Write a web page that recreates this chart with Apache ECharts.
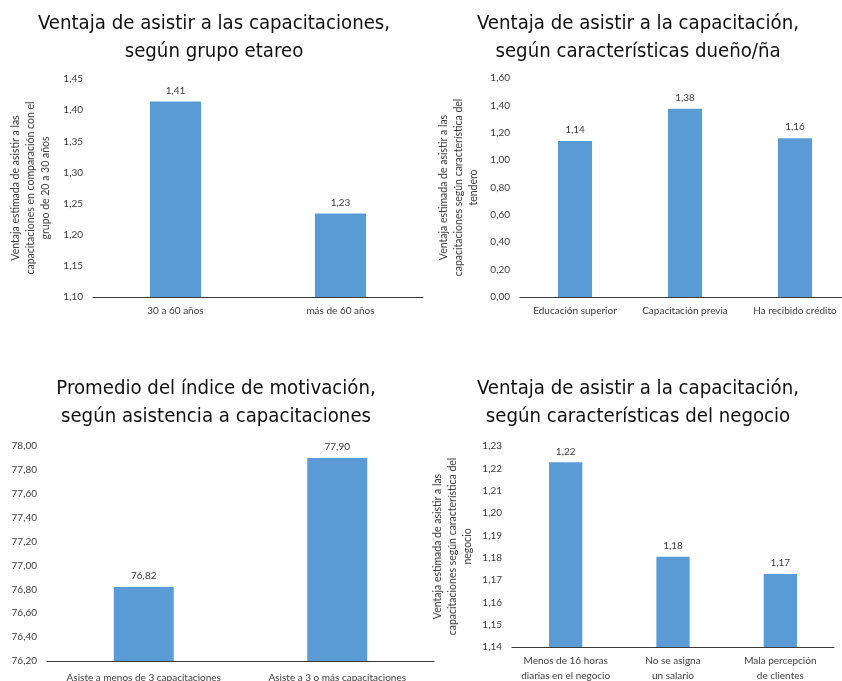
<!DOCTYPE html>
<html>
<head>
<meta charset="utf-8">
<script src="https://cdn.jsdelivr.net/npm/echarts@6/dist/echarts.min.js"></script>
<style>
  html, body { margin: 0; padding: 0; background: #fff; }
  #chart { width: 842px; height: 681px; }
</style>
</head>
<body>
<div id="chart"></div>
<script>
// Panel 1: age groups
const ageCategories = ['30 a 60 años', 'más de 60 años'];
const ageValues = [1.414, 1.234];

// Panel 2: owner characteristics
const ownerCategories = ['Educación superior', 'Capacitación previa', 'Ha recibido crédito'];
const ownerValues = [1.14, 1.376, 1.16];

// Panel 3: motivation index by attendance
const motivCategories = ['Asiste a menos de 3 capacitaciones', 'Asiste a 3 o más capacitaciones'];
const motivValues = [76.82, 77.90];

// Panel 4: business characteristics
const businessCategories = ['Menos de 16 horas\ndiarias en el negocio', 'No se asigna\nun salario', 'Mala percepción\nde clientes'];
const businessValues = [1.2227, 1.1804, 1.1727];

const titles = [
  'Ventaja de asistir a las capacitaciones,\nsegún grupo etareo',
  'Ventaja de asistir a la capacitación,\nsegún características dueño/ña',
  'Promedio del índice de motivación,\nsegún asistencia a capacitaciones',
  'Ventaja de asistir a la capacitación,\nsegún características del negocio'
];

const yNames = [
  'Ventaja estimada de asistir a las\ncapacitaciones en comparación con el\ngrupo de 20 a 30 años',
  'Ventaja estimada de asistir a las\ncapacitaciones según característica del\ntendero',
  '',
  'Ventaja estimada de asistir a las\ncapacitaciones según característica del\nnegocio'
];

const BAR = '#5B9BD5';
const TXT = '#404040';
const FONT = 'Lato, "Open Sans", sans-serif';
const TITLE_FONT = '"DejaVu Sans Condensed", Lato, sans-serif';
const comma = v => v.toFixed(2).replace('.', ',');

const grids = [
  { left: 93, top: 79, width: 330, height: 218 },
  { left: 520, top: 78, width: 330, height: 219 },
  { left: 47, top: 446, width: 387, height: 215 },
  { left: 512, top: 446, width: 322, height: 201 }
];

const yRanges = [
  { min: 1.10, max: 1.45, interval: 0.05 },
  { min: 0, max: 1.6, interval: 0.2 },
  { min: 76.2, max: 78.0, interval: 0.2 },
  { min: 1.14, max: 1.23, interval: 0.01 }
];

const cats = [ageCategories, ownerCategories, motivCategories, businessCategories];
const vals = [ageValues, ownerValues, motivValues, businessValues];
const nameGaps = [40, 39, 0, 37];
const xLabelMargins = [6, 6, 9, 6];
const titleCenters = [[209, 5], [633, 5], [211, 370], [633, 370]];

const option = {
  animation: false,
  backgroundColor: '#fff',
  title: titles.map((t, i) => ({
    text: t,
    left: titleCenters[i][0],
    top: titleCenters[i][1],
    textAlign: 'center',
    textStyle: { fontFamily: TITLE_FONT, fontSize: 20.2, fontWeight: 'normal', color: '#111', lineHeight: 28 }
  })),
  grid: grids.map(g => Object.assign({ containLabel: false, outerBoundsMode: 'none' }, g)),
  xAxis: cats.map((c, i) => ({
    type: 'category',
    gridIndex: i,
    data: c,
    axisLine: { lineStyle: { color: '#3a3a3a', width: 1 } },
    axisTick: { show: false },
    axisLabel: { color: TXT, fontFamily: FONT, fontSize: 10, margin: xLabelMargins[i], lineHeight: 15, interval: 0 }
  })),
  yAxis: yRanges.map((r, i) => ({
    type: 'value',
    gridIndex: i,
    min: r.min,
    max: r.max,
    interval: r.interval,
    axisLine: { show: false },
    axisTick: { show: false },
    splitLine: { show: false },
    axisLabel: { color: TXT, fontFamily: FONT, fontSize: 10, margin: 10, formatter: v => comma(v) },
    name: yNames[i],
    nameLocation: 'middle',
    nameRotate: 90,
    nameGap: nameGaps[i],
    nameTextStyle: { color: TXT, fontFamily: FONT, fontSize: 10.5, lineHeight: 15 }
  })),
  series: vals.map((v, i) => ({
    type: 'bar',
    xAxisIndex: i,
    yAxisIndex: i,
    data: v,
    barWidth: '31%',
    itemStyle: { color: BAR },
    label: {
      show: true,
      position: 'top',
      distance: 6,
      color: TXT,
      fontFamily: FONT,
      fontSize: 10,
      formatter: p => comma(p.value)
    }
  }))
};

const chart = echarts.init(document.getElementById('chart'), null, { renderer: 'canvas' });
chart.setOption(option);
</script>
</body>
</html>
